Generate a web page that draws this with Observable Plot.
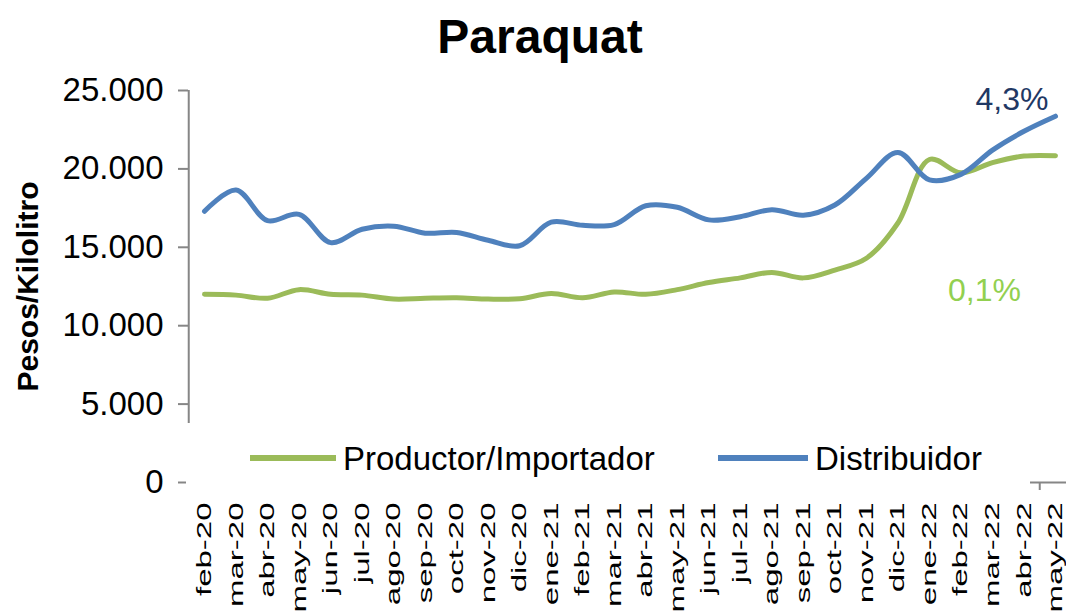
<!DOCTYPE html>
<html>
<head>
<meta charset="utf-8">
<script src="https://cdn.jsdelivr.net/npm/d3@7"></script>
<script src="https://cdn.jsdelivr.net/npm/@observablehq/plot@0.6"></script>
<style>
  html, body { margin: 0; padding: 0; background: #fff; }
  body { width: 1066px; height: 613px; position: relative; overflow: hidden; font-family: "Liberation Sans", Arial, sans-serif; }
  #title { position: absolute; left: 0; top: 13px; width: 1080px; text-align: center; font-size: 48px; line-height: 48px; font-weight: bold; color: #000; }
  #chart { position: absolute; left: 0; top: 70px; }
  #legend { position: absolute; left: 186px; top: 423px; width: 844px; height: 72px; background: #fff; }
  .lg-line { position: absolute; height: 6px; }
  .lg-text { position: absolute; font-size: 33px; line-height: 33px; color: #000; white-space: nowrap; }
</style>
</head>
<body>
<div id="title">Paraquat</div>
<div id="chart"></div>
<div id="legend"></div>
<script>
// ---- data ----
const months = ["feb-20","mar-20","abr-20","may-20","jun-20","jul-20","ago-20","sep-20","oct-20","nov-20","dic-20",
  "ene-21","feb-21","mar-21","abr-21","may-21","jun-21","jul-21","ago-21","sep-21","oct-21","nov-21","dic-21",
  "ene-22","feb-22","mar-22","abr-22","may-22"];
const productor = [12000, 11950, 11750, 12300, 12000, 11950, 11700, 11750, 11780, 11700, 11720,
  12050, 11780, 12150, 12000, 12300, 12750, 13050, 13400, 13050, 13550, 14300, 16550,
  20600, 19750, 20400, 20820, 20840];
const distribuidor = [17300, 18650, 16700, 17100, 15300, 16150, 16350, 15900, 15950, 15450, 15100,
  16600, 16400, 16450, 17650, 17550, 16750, 16950, 17400, 17050, 17700, 19400, 21050,
  19300, 19650, 21200, 22400, 23360];
const seriesNames = ["Productor/Importador", "Distribuidor"];
const seriesColors = ["#9BBB59", "#4F81BD"];
const annotations = ["0,1%", "4,3%"];
const annotationColors = ["#92D050", "#1F3864"];
const yTicks = [0, 5000, 10000, 15000, 20000, 25000];
const yTitle = "Pesos/Kilolitro";

const rows = months.map((m, i) => ({i, m, productor: productor[i], distribuidor: distribuidor[i]}));
const last = [rows[rows.length - 1]];
const bounds = d3.range(-0.5, months.length, 1);
const fmt = d => d3.format(",")(d).replace(/,/g, ".");
const gray = "#868686";

const plot = Plot.plot({
  width: 1066,
  height: 543,
  marginTop: 20,
  marginBottom: 131,
  marginLeft: 188,
  marginRight: 0,
  style: {fontFamily: "Liberation Sans, Arial, sans-serif", background: "transparent", color: "#000"},
  x: {type: "linear", domain: [0, months.length - 1], range: [204, 1055]},
  y: {domain: [0, 25000]},
  marks: [
    Plot.ruleX([-0.5], {y1: 0, y2: 25000, stroke: gray, strokeWidth: 2}),
    Plot.ruleY([0], {x1: -0.5, x2: months.length - 0.5, stroke: gray, strokeWidth: 2}),
    Plot.axisY(yTicks, {tickSize: 10, tickPadding: 15, stroke: gray, strokeWidth: 2, tickFormat: fmt, fontSize: 33, fill: "#000", label: null}),
    Plot.axisX(bounds, {tickSize: 8, stroke: gray, strokeWidth: 2, tickFormat: () => "", label: null}),
    Plot.axisX(rows.map(d => d.i), {tickSize: 0, tickPadding: 20, tickRotate: -90, tickFormat: i => months[i], fontSize: 33, fill: "#000", label: null}),
    Plot.text([yTitle], {frameAnchor: "left", dx: -160, rotate: -90, textAnchor: "middle", lineAnchor: "middle", fontSize: 30, fontWeight: "bold", fill: "#000"}),
    Plot.line(rows, {x: "i", y: "productor", stroke: seriesColors[0], strokeWidth: 5, curve: "catmull-rom"}),
    Plot.line(rows, {x: "i", y: "distribuidor", stroke: seriesColors[1], strokeWidth: 5, curve: "catmull-rom"}),
    Plot.text(last, {x: "i", y: "productor", text: () => annotations[0], fill: annotationColors[0], fontSize: 32, textAnchor: "middle", lineAnchor: "middle", dx: -71, dy: 135}),
    Plot.text(last, {x: "i", y: "distribuidor", text: () => annotations[1], fill: annotationColors[1], fontSize: 32, textAnchor: "end", lineAnchor: "middle", dx: -7, dy: -16})
  ]
});

// compress rotated x tick labels across their height, as in the reference
plot.querySelectorAll('g[aria-label="x-axis tick label"] text').forEach(t => {
  const tr = t.getAttribute("transform") || "";
  t.setAttribute("transform", tr + " scale(1,0.62)");
});
document.getElementById("chart").appendChild(plot);

// legend
const legend = document.getElementById("legend");
const lgPos = [{line: 64, w: 86, text: 157}, {line: 532, w: 90, text: 629}];
seriesNames.forEach((name, k) => {
  const l = document.createElement("div");
  l.className = "lg-line";
  l.style.left = lgPos[k].line + "px";
  l.style.top = "32px";
  l.style.width = lgPos[k].w + "px";
  l.style.background = seriesColors[k];
  legend.appendChild(l);
  const s = document.createElement("div");
  s.className = "lg-text";
  s.style.left = lgPos[k].text + "px";
  s.style.top = "19px";
  s.textContent = name;
  legend.appendChild(s);
});
</script>
</body>
</html>
